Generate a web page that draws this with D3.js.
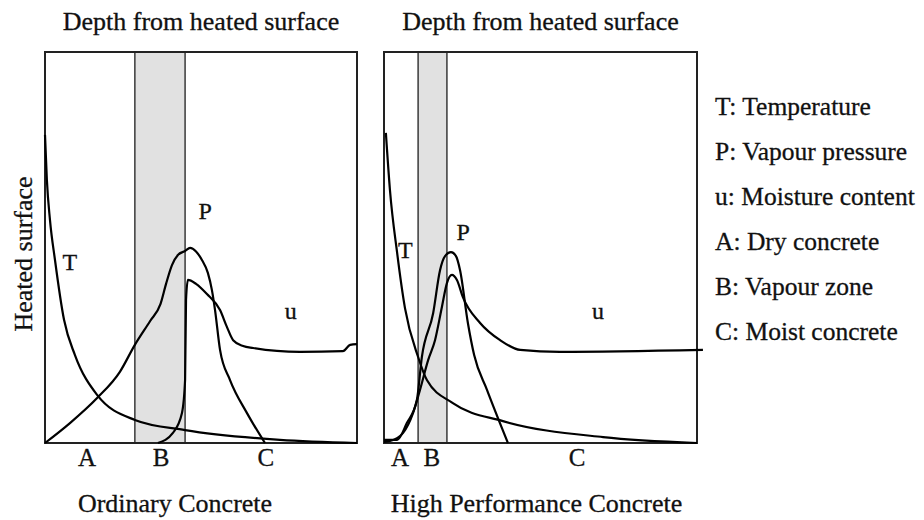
<!DOCTYPE html>
<html><head><meta charset="utf-8">
<script src="https://cdn.jsdelivr.net/npm/d3@7"></script>
<style>
html,body{margin:0;padding:0;background:#fff;}
</style></head>
<body><svg id="c" width="924" height="520"></svg>
<script>
// ---- data (depth 0..100, magnitude 0..100) ----
const panelTitles = ["Ordinary Concrete", "High Performance Concrete"];
const topTitle = "Depth from heated surface";
const yTitle = "Heated surface";
const zoneNames = ["A", "B", "C"];
const ordinaryZoneB = [28.8, 44.9];
const hpcZoneB = [10.9, 20.1];
const ordinaryZoneLabelX = [13.5, 37.2, 70.8];
const hpcZoneLabelX = [5.1, 15.3, 61.7];

const ordinaryT = [[0,78.8],[0.6,67.3],[1.6,57.0],[3.2,46.8],[6.1,31.5],[9.6,22.5],[16.7,12.3],[28.8,5.9],[44.9,3.3],[75.3,0.8],[100,0]];
const ordinaryP = [[0,0],[8.0,5.1],[16.7,11.5],[24.0,18.2],[28.8,25.1],[33.7,31.2],[37.0,35.5],[38.8,40.7],[40.7,45.5],[42.6,48.1],[44.9,49.1],[46.5,49.9],[48.4,49.0],[50.3,46.8],[52.2,43.5],[53.5,39.1],[54.5,34.0],[56.1,23.8],[59.3,16.1],[64.7,7.7],[70.5,0]];
const ordinaryU = [[36.2,0],[41.0,2.6],[43.9,7.7],[44.9,16.1],[45.2,36.6],[45.8,41.7],[48.4,40.7],[51.9,38.1],[56.1,34.0],[58.3,29.7],[60.3,26.3],[63.5,24.8],[66.7,24.3],[81.7,23.3],[95.5,23.5],[97.8,25.1],[100,25.3]];

const hpcT = [[0.6,79.3],[1.9,64.7],[4.2,48.6],[6.7,34.5],[10.9,22.0],[13.7,16.1],[22.0,10.2],[38.0,5.6],[70.0,1.5],[100,0]];
const hpcP = [[0,0.8],[4.2,0.8],[7.3,5.1],[10.5,11.0],[12.1,22.0],[15.7,33.2],[17.9,44.2],[19.5,47.8],[21.4,48.8],[23.0,47.8],[24.3,44.2],[26.8,30.7],[28.8,22.5],[32.9,13.6],[39.6,0]];
const hpcU = [[0,0.3],[1.9,0.5],[6.1,2.6],[9.3,7.7],[11.5,13.6],[14.1,21.2],[16.3,26.3],[18.5,34.8],[20.1,40.9],[21.7,43.0],[23.3,41.7],[25.2,37.3],[30.7,30.7],[37.1,26.3],[43.5,23.8],[56.2,23.3],[101.9,23.8]];

const curveLabels = ["T", "P", "u"];
const ordinaryCurveLabelPos = [[8.0,44.2],[51.3,57.3],[78.8,31.7]];
const hpcCurveLabelPos = [[6.8,47.3],[25.3,51.9],[68.4,31.7]];

const legendItems = ["T: Temperature","P: Vapour pressure","u: Moisture content","A: Dry concrete","B: Vapour zone","C: Moist concrete"];

// ---- drawing ----
const FONT = "'Liberation Serif', 'Times New Roman', Times, 'DejaVu Serif', serif";
const svg = d3.select("#c");
const plotTop = 52, plotBottom = 443;
const panels = [
  {x0:45, x1:357, zone:ordinaryZoneB, zx:ordinaryZoneLabelX, T:ordinaryT, P:ordinaryP, U:ordinaryU, lab:ordinaryCurveLabelPos, title:panelTitles[0], tdx:0, bdx:-26},
  {x0:384, x1:697, zone:hpcZoneB, zx:hpcZoneLabelX, T:hpcT, P:hpcP, U:hpcU, lab:hpcCurveLabelPos, title:panelTitles[1], tdx:0, bdx:-4}
];

function txt(sel, s, size) {
  return sel.append("text").attr("font-family", FONT).attr("font-size", size)
    .attr("fill", "#111").attr("stroke", "#111").attr("stroke-width", 0.3).text(s);
}

panels.forEach(p => {
  const x = d3.scaleLinear().domain([0,100]).range([p.x0, p.x1]);
  const y = d3.scaleLinear().domain([0,100]).range([plotBottom, plotTop]);
  const g = svg.append("g");
  g.append("rect").attr("x", x(p.zone[0])).attr("y", plotTop)
    .attr("width", x(p.zone[1]) - x(p.zone[0])).attr("height", plotBottom - plotTop)
    .attr("fill", "#e1e1e1");
  p.zone.forEach(v => g.append("line").attr("x1", x(v)).attr("x2", x(v))
    .attr("y1", plotTop).attr("y2", plotBottom).attr("stroke", "#444").attr("stroke-width", 1.6));
  g.append("rect").attr("x", p.x0).attr("y", plotTop).attr("width", p.x1 - p.x0)
    .attr("height", plotBottom - plotTop).attr("fill", "none").attr("stroke", "#222").attr("stroke-width", 2);
  const line = d3.line().x(d => x(d[0])).y(d => y(d[1])).curve(d3.curveMonotoneX);
  [p.T, p.P, p.U].forEach(s => g.append("path").attr("d", line(s))
    .attr("fill", "none").attr("stroke", "#000").attr("stroke-width", 2.2));
  p.lab.forEach((d, i) => txt(g, curveLabels[i], 24).attr("x", x(d[0])).attr("y", y(d[1]))
    .attr("text-anchor", "middle"));
  p.zx.forEach((v, i) => txt(g, zoneNames[i], 25).attr("x", x(v)).attr("y", 466)
    .attr("text-anchor", "middle"));
  txt(g, topTitle, 26).attr("x", (p.x0 + p.x1) / 2 + p.tdx).attr("y", 30)
    .attr("text-anchor", "middle");
  txt(g, p.title, 26).attr("x", (p.x0 + p.x1) / 2 + p.bdx).attr("y", 512)
    .attr("text-anchor", "middle");
});

txt(svg, yTitle, 26).attr("transform", "translate(32,254) rotate(-90)")
  .attr("text-anchor", "middle");

legendItems.forEach((t, i) => txt(svg, t, 25.5).attr("x", 715).attr("y", 115 + i * 45));
</script></body></html>
